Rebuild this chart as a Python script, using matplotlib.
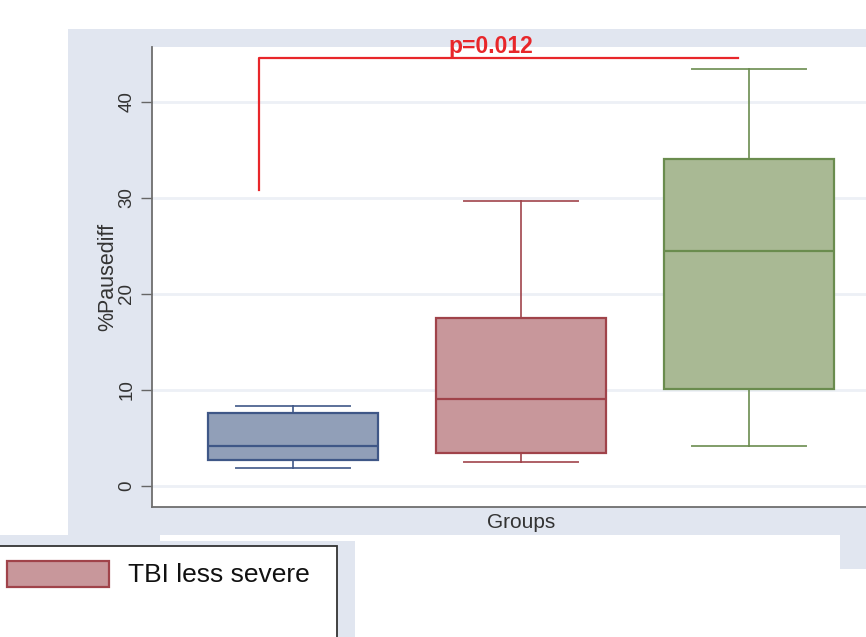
import matplotlib
matplotlib.use("Agg")
import matplotlib.pyplot as plt
from matplotlib.patches import Rectangle

plt.rcParams['font.family'] = ['Liberation Sans', 'DejaVu Sans']

# box plot summaries per group
positions = [1, 2, 3]
whislo = [1.9, 2.5, 4.2]
q1 = [2.7, 3.45, 10.1]
med = [4.2, 9.1, 24.5]
q3 = [7.6, 17.5, 34.1]
whishi = [8.3, 29.7, 43.4]

fills = ['#919fb8', '#c8979b', '#a9b994']
edges = ['#3f5787', '#a0434a', '#6a8c4e']

yticks = [0, 10, 20, 30, 40]
legend_label = 'TBI less severe'
p_text = 'p=0.012'
bracket_x = [0.85, 2.95]
bracket_y = [30.8, 44.6]

W, H = 866, 637
panel = '#e1e6f0'


def px_rect(x0, y0, x1, y1, **kw):
    # rectangle given in pixel coords (origin top-left)
    return Rectangle((x0 / W, 1 - y1 / H), (x1 - x0) / W, (y1 - y0) / H,
                     transform=fig.transFigure, **kw)


fig = plt.figure(figsize=(W / 100, H / 100), dpi=100)
fig.patch.set_facecolor('white')

# background panels
for r in [(68, 29, 866, 535), (0, 535, 160, 637), (160, 541, 355, 637),
          (840, 535, 866, 569)]:
    fig.patches.append(px_rect(*r, facecolor=panel, edgecolor='none', zorder=-2))

ax = fig.add_axes([152 / W, 1 - 507 / H, 738 / W, 460 / H])
ax.set_zorder(1)
ax.set_facecolor('white')
ax.set_xlim(0.382, 3.618)
ax.set_ylim(-2.19, 45.73)

stats = []
for i in range(3):
    stats.append({'whislo': whislo[i], 'q1': q1[i], 'med': med[i],
                  'q3': q3[i], 'whishi': whishi[i], 'fliers': []})

for i in range(3):
    ax.bxp([stats[i]], positions=[positions[i]], widths=0.746, capwidths=0.5,
           patch_artist=True, showfliers=False, manage_ticks=False,
           boxprops=dict(facecolor=fills[i], edgecolor=edges[i], linewidth=1.6),
           medianprops=dict(color=edges[i], linewidth=1.6),
           whiskerprops=dict(color=edges[i], linewidth=1.4, alpha=0.85),
           capprops=dict(color=edges[i], linewidth=1.4, alpha=0.85))

ax.set_yticks(yticks)
ax.set_yticklabels([str(t) for t in yticks], rotation=90, va='center')
ax.tick_params(axis='y', length=8, width=1, color='#666666', labelsize=13.5,
               labelcolor='#333333', pad=4)
ax.set_xticks([])
ax.grid(axis='y', color='#edf0f6', linewidth=2)
ax.set_axisbelow(True)

for s in ['top', 'right']:
    ax.spines[s].set_visible(False)
for s in ['left', 'bottom']:
    ax.spines[s].set_color('#6e6e6e')
    ax.spines[s].set_linewidth(1.3)

ax.set_ylabel('%Pausediff', fontsize=15.5, color='#333333', labelpad=0)
ax.set_xlabel('Groups', fontsize=15, color='#333333', labelpad=4)

# significance bracket
ax.plot([bracket_x[0], bracket_x[0], bracket_x[1]],
        [bracket_y[0], bracket_y[1], bracket_y[1]],
        color='#e8262a', linewidth=1.6, clip_on=False)
ax.text(1.868, 45.15, p_text, color='#e8262a', fontsize=16.5, fontweight='bold',
        ha='center', va='baseline', clip_on=False)

# legend box
fig.patches.append(px_rect(-2, 546, 337, 640, facecolor='white',
                           edgecolor='#333333', linewidth=1.3, zorder=2))
fig.patches.append(px_rect(7, 561, 109, 587, facecolor=fills[1],
                           edgecolor=edges[1], linewidth=1.6, zorder=3))
fig.text(128 / W, 1 - 575 / H, legend_label, fontsize=19, color='#111111',
         va='center', ha='left', zorder=4)

fig.savefig('out.png', dpi=100)
